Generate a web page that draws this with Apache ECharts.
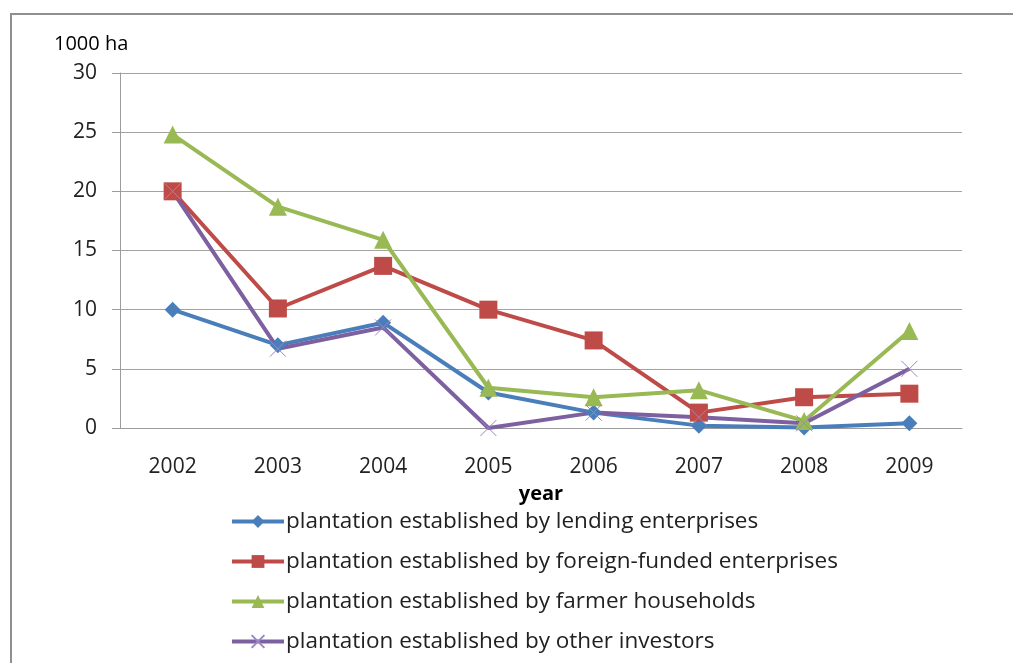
<!DOCTYPE html>
<html>
<head>
<meta charset="utf-8">
<script src="https://cdn.jsdelivr.net/npm/echarts@6/dist/echarts.min.js"></script>
<style>
  html, body { margin: 0; padding: 0; background: #fff; }
  #chart { width: 1013px; height: 663px; }
</style>
</head>
<body>
<div id="chart"></div>
<script>
// Plantation area by investor type, 1000 ha
const years = ['2002', '2003', '2004', '2005', '2006', '2007', '2008', '2009'];
const lending = [10, 7.0, 8.9, 3.0, 1.3, 0.2, 0.05, 0.4];
const foreignFunded = [20, 10.1, 13.7, 10, 7.4, 1.3, 2.6, 2.9];
const farmers = [24.8, 18.7, 15.9, 3.4, 2.6, 3.2, 0.6, 8.2];
const others = [20, 6.7, 8.5, 0, 1.3, 0.9, 0.4, 5.0];
const yTicks = { min: 0, max: 30, step: 5 };

const seriesNames = [
  'plantation established by lending enterprises',
  'plantation established by foreign-funded enterprises',
  'plantation established by farmer households',
  'plantation established by other investors'
];

const FONT = '"Open Sans", "Liberation Sans", Arial, sans-serif';
const crossPath = 'path://M0,0L20,20M20,0L0,20';

function lineSeries(name, data, color, symbol, size, extra) {
  return Object.assign({
    name: name,
    type: 'line',
    data: data,
    symbol: symbol,
    symbolSize: size,
    showAllSymbol: true,
    lineStyle: { color: color, width: 4 },
    itemStyle: { color: color },
    emphasis: { disabled: true },
    z: 3
  }, extra || {});
}

const chart = echarts.init(document.getElementById('chart'), null, { renderer: 'canvas' });
chart.setOption({
  animation: false,
  backgroundColor: '#ffffff',
  graphic: [
    {
      type: 'rect',
      shape: { x: 11, y: 14, width: 1200, height: 900 },
      style: { fill: 'none', stroke: '#8f8f8f', lineWidth: 2 },
      silent: true
    },
    {
      type: 'text',
      left: 54, top: 34,
      style: { text: '1000 ha', font: '20px ' + FONT, fill: '#000' }
    }
  ],
  grid: { left: 120, right: 51, top: 73, bottom: 235, containLabel: false },
  xAxis: {
    type: 'category',
    data: years,
    boundaryGap: true,
    axisLine: { lineStyle: { color: '#9c9c9c', width: 1 } },
    axisTick: { show: false },
    axisLabel: { color: '#222', fontSize: 21, fontFamily: FONT, margin: 29 },
    name: 'year',
    nameLocation: 'middle',
    nameGap: 56,
    nameTextStyle: { color: '#000', fontSize: 20, fontWeight: 'bold', fontFamily: FONT }
  },
  yAxis: {
    type: 'value',
    min: yTicks.min, max: yTicks.max, interval: yTicks.step,
    axisLine: { show: true, lineStyle: { color: '#9c9c9c', width: 1 } },
    axisTick: { show: true, length: 8, lineStyle: { color: '#9c9c9c' } },
    axisLabel: { color: '#222', fontSize: 21, fontFamily: FONT, margin: 23 },
    splitLine: { lineStyle: { color: '#a3a3a3', width: 1 } }
  },
  legend: {
    orient: 'vertical',
    left: 230,
    top: 510,
    padding: 0,
    itemWidth: 52,
    itemHeight: 16,
    itemGap: 17,
    lineStyle: { width: 4 },
    textStyle: { color: '#222', fontSize: 22.5, fontFamily: FONT, lineHeight: 23, padding: [0, 0, 0, -3] },
    data: seriesNames
  },
  series: [
    lineSeries(seriesNames[0], lending, '#4a7ebb', 'diamond', 16),
    lineSeries(seriesNames[1], foreignFunded, '#be4b48', 'rect', 18),
    lineSeries(seriesNames[2], farmers, '#98b954', 'triangle', 18),
    lineSeries(seriesNames[3], others, '#7d60a0', crossPath, 16, {
      itemStyle: { color: '#7d60a0', borderColor: '#9c86c2', borderWidth: 1 }
    })
  ]
});
</script>
</body>
</html>
